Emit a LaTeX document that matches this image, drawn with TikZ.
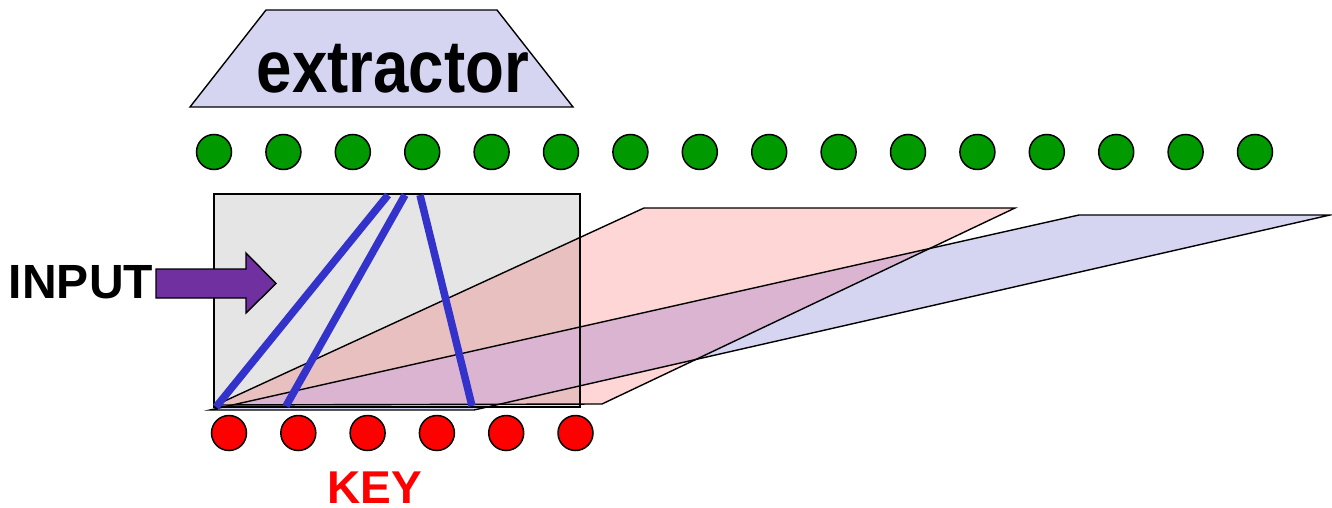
\documentclass[tikz,border=0pt]{standalone}
\usepackage{fontspec}
\setmainfont{Liberation Sans}
\definecolor{lav}{HTML}{D5D5F2}
\definecolor{grayfill}{HTML}{E5E5E5}
\definecolor{pinkfill}{HTML}{FFD6D6}
\definecolor{pinkgray}{HTML}{E8C0C0}
\definecolor{purplemix}{HTML}{DAB4D0}
\definecolor{bluel}{HTML}{3333CC}
\definecolor{arrowpurple}{HTML}{7030A0}
\definecolor{gdotc}{HTML}{009900}
\definecolor{rdotc}{HTML}{FF0000}
\begin{document}
\begin{tikzpicture}[x=1pt,y=-1pt,
  outl/.style={draw=black,line width=1.4pt,line join=miter},
  bluebar/.style={draw=bluel,line width=7.5pt},
  dotbase/.style={circle,draw=black,line width=1.5pt,minimum size=35pt,inner sep=0pt},
  gdot/.style={dotbase,fill=gdotc},
  rdot/.style={dotbase,fill=rdotc},
  lbl/.style={inner sep=0pt,anchor=base,font=\bfseries}]
\useasboundingbox (0,0) rectangle (1332,508);
% coordinates
\coordinate (rA) at (214,194); \coordinate (rC) at (580,407);
\coordinate (p1) at (216,405); \coordinate (p2) at (602,404);
\coordinate (p3) at (1015,208); \coordinate (p4) at (644,208);
\coordinate (l1) at (210,410); \coordinate (l2) at (474,410);
\coordinate (l3) at (1330,215); \coordinate (l4) at (1079,215);
% extractor
\draw[outl,fill=lav] (266,10) -- (497,10) -- (573,107) -- (190,107) -- cycle;
\node[lbl,font=\bfseries\fontsize{74}{74}\selectfont,xscale=0.86] (ext) at (393,93) {extractor};
% fills
\fill[grayfill] (rA) rectangle (rC);
\fill[pinkfill] (p1) -- (p2) -- (p3) -- (p4) -- cycle;
\begin{scope}
  \clip (rA) rectangle (rC);
  \fill[pinkgray] (p1) -- (p2) -- (p3) -- (p4) -- cycle;
\end{scope}
\fill[lav] (l1) -- (l2) -- (l3) -- (l4) -- cycle;
\begin{scope}
  \clip (p1) -- (p2) -- (p3) -- (p4) -- cycle;
  \fill[purplemix] (l1) -- (l2) -- (l3) -- (l4) -- cycle;
\end{scope}
% outlines
\draw[outl] (rA) rectangle (rC);
\draw[outl] (p1) -- (p2) -- (p3) -- (p4) -- cycle;
\draw[outl] (l1) -- (l2) -- (l3) -- (l4) -- cycle;
% blue bars
\coordinate (b1t) at (388,195); \coordinate (b1b) at (216,407);
\coordinate (b2t) at (405,195); \coordinate (b2b) at (286,406);
\coordinate (b3t) at (420,195); \coordinate (b3b) at (472,406);
\draw[bluebar] (b1t) -- (b1b);
\draw[bluebar] (b2t) -- (b2b);
\draw[bluebar] (b3t) -- (b3b);
% INPUT arrow
\node[lbl,font=\bfseries\fontsize{48}{48}\selectfont] (input) at (81,298) {INPUT};
\draw[outl,fill=arrowpurple] (156,269) -- (246,269) -- (246,253) -- (276,283.5) -- (246,313) -- (246,298) -- (156,298) -- cycle;
% dots
\foreach \i in {0,...,15} \node[gdot] (g\i) at ({214+69.4*\i},152) {};
\foreach \i in {0,...,5} \node[rdot] (r\i) at ({229+69.3*\i},433) {};
\node[lbl,text=rdotc,font=\bfseries\fontsize{46}{46}\selectfont] (key) at (375,503) {KEY};
\end{tikzpicture}
\end{document}
